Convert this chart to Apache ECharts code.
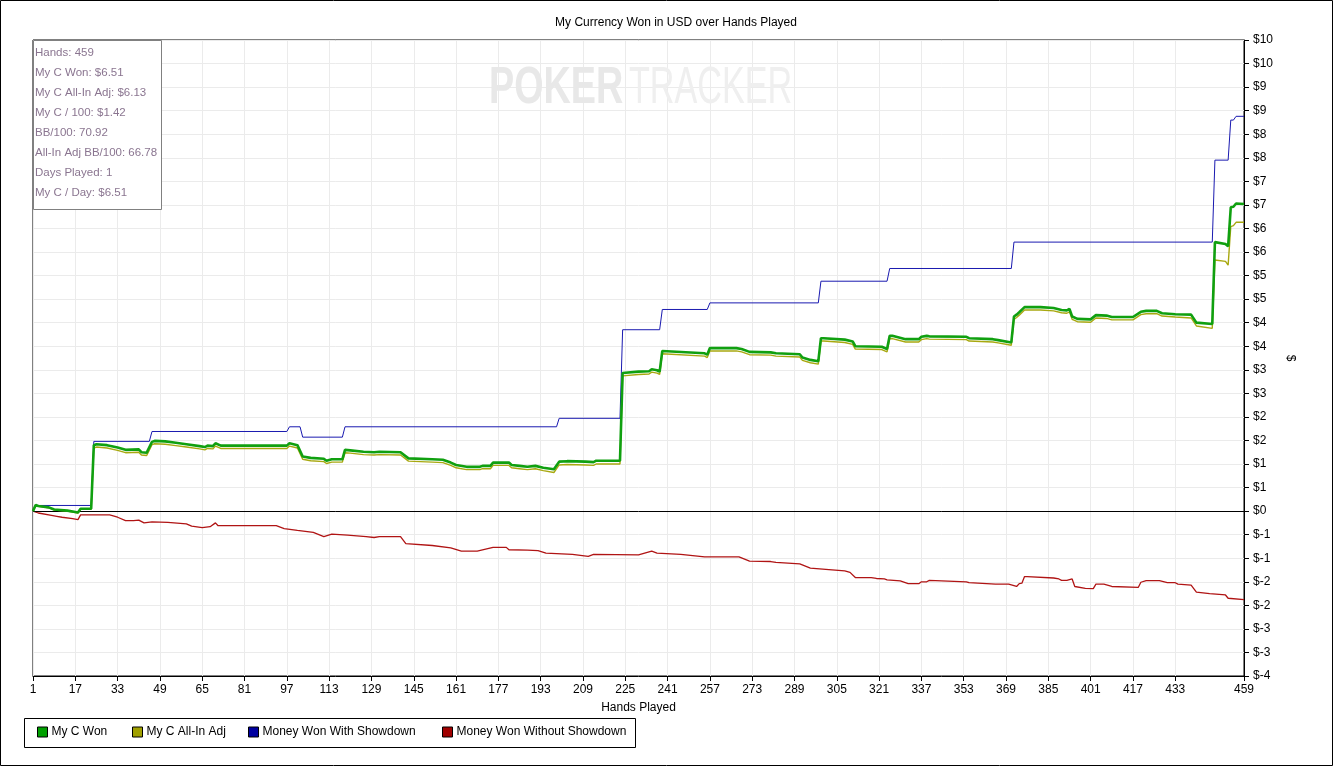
<!DOCTYPE html>
<html>
<head>
<meta charset="utf-8">
<script src="https://cdn.jsdelivr.net/npm/echarts@6/dist/echarts.min.js"></script>
<style>html,body{margin:0;padding:0;background:#fff;}#c{width:1338px;height:767px;}</style>
</head>
<body>
<div id="c"></div>
<script>
const titleText = 'My Currency Won in USD over Hands Played';
const seriesNames = ['My C Won', 'My C All-In Adj', 'Money Won With Showdown', 'Money Won Without Showdown'];
const xTicks = [1,17,33,49,65,81,97,113,129,145,161,177,193,209,225,241,257,273,289,305,321,337,353,369,385,401,417,433,459];
const infoLines = ['Hands: 459','My C Won: $6.51','My C All-In Adj: $6.13','My C / 100: $1.42','BB/100: 70.92','All-In Adj BB/100: 66.78','Days Played: 1','My C / Day: $6.51'];

const myCWon = [[1,0],[2,0.13],[3,0.11],[7,0.08],[9,0.035],[14,0.01],[17,-0.02],[18,-0.03],[19,0.05],[23,0.05],[24,1.40],[25,1.42],[29,1.40],[33,1.35],[36,1.30],[41,1.31],[42,1.25],[44,1.24],[46,1.47],[47,1.49],[51,1.48],[55,1.45],[59,1.42],[64,1.38],[66,1.36],[67,1.39],[69,1.38],[70,1.44],[72,1.39],[97,1.39],[98,1.44],[101,1.40],[103,1.16],[106,1.13],[111,1.11],[112,1.07],[114,1.10],[118,1.10],[119,1.30],[121,1.29],[126,1.26],[130,1.25],[132,1.26],[140,1.25],[143,1.12],[152,1.10],[156,1.09],[159,1.03],[161,0.98],[165,0.94],[170,0.94],[171,0.96],[174,0.96],[175,1.03],[181,1.03],[182,0.98],[185,0.96],[188,0.94],[191,0.96],[194,0.92],[198,0.89],[200,1.05],[203,1.06],[210,1.05],[213,1.04],[214,1.07],[223,1.07],[224,2.93],[230,2.96],[234,2.97],[235,3.01],[237,2.99],[238,2.96],[239,3.40],[255,3.35],[256,3.32],[257,3.46],[267,3.46],[269,3.44],[272,3.38],[280,3.37],[282,3.35],[291,3.33],[292,3.26],[295,3.21],[298,3.18],[299,3.67],[300,3.67],[308,3.64],[311,3.60],[312,3.50],[322,3.49],[324,3.44],[325,3.72],[326,3.72],[331,3.65],[336,3.65],[337,3.70],[339,3.72],[340,3.71],[354,3.70],[355,3.67],[364,3.65],[366,3.63],[371,3.58],[372,4.13],[373,4.17],[374,4.22],[376,4.33],[382,4.33],[387,4.31],[390,4.27],[392,4.26],[393,4.29],[394,4.13],[396,4.08],[401,4.07],[403,4.16],[407,4.15],[409,4.12],[417,4.12],[420,4.23],[422,4.25],[426,4.25],[428,4.20],[433,4.18],[439,4.17],[441,4.00],[447,3.97],[448,5.71],[452,5.67],[453,5.62],[454,6.45],[455,6.46],[456,6.53],[459,6.52]];

const myCAllInAdj = [[1,0],[2,0.12],[3,0.10],[7,0.07],[9,0.025],[14,0.0],[17,-0.03],[18,-0.04],[19,0.04],[23,0.04],[24,1.34],[25,1.36],[29,1.34],[33,1.29],[36,1.24],[41,1.25],[42,1.19],[44,1.18],[46,1.41],[47,1.43],[51,1.42],[55,1.39],[59,1.36],[64,1.32],[66,1.30],[67,1.33],[69,1.32],[70,1.38],[72,1.33],[97,1.33],[98,1.38],[101,1.34],[103,1.10],[106,1.07],[111,1.05],[112,1.01],[114,1.04],[118,1.04],[119,1.24],[121,1.23],[126,1.20],[130,1.19],[132,1.20],[140,1.19],[143,1.06],[152,1.04],[156,1.03],[159,0.97],[161,0.92],[165,0.88],[170,0.88],[171,0.90],[174,0.90],[175,0.97],[181,0.97],[182,0.92],[185,0.90],[188,0.88],[191,0.90],[194,0.86],[198,0.82],[200,0.98],[203,0.99],[210,0.98],[213,0.97],[214,1.00],[223,1.00],[224,2.87],[230,2.90],[234,2.91],[235,2.95],[237,2.93],[238,2.90],[239,3.34],[255,3.29],[256,3.26],[257,3.40],[267,3.40],[269,3.38],[272,3.32],[280,3.31],[282,3.29],[291,3.27],[292,3.20],[295,3.15],[298,3.12],[299,3.61],[300,3.61],[308,3.58],[311,3.54],[312,3.44],[322,3.43],[324,3.38],[325,3.66],[326,3.66],[331,3.59],[336,3.59],[337,3.64],[339,3.66],[340,3.65],[354,3.64],[355,3.61],[364,3.59],[366,3.57],[371,3.52],[372,4.07],[373,4.11],[374,4.16],[376,4.27],[382,4.27],[387,4.25],[390,4.21],[392,4.20],[393,4.23],[394,4.07],[396,4.02],[401,4.01],[403,4.10],[407,4.09],[409,4.06],[417,4.06],[420,4.17],[422,4.19],[426,4.19],[428,4.14],[433,4.12],[439,4.10],[441,3.93],[447,3.88],[448,5.33],[452,5.30],[453,5.22],[454,6.04],[455,6.06],[456,6.13],[459,6.13]];

const wonWithShowdown = [[1,0],[2,0.12],[23,0.12],[24,1.48],[45,1.48],[46,1.69],[97,1.69],[98,1.79],[102,1.79],[103,1.57],[118,1.57],[119,1.79],[199,1.79],[200,1.97],[223,1.97],[224,3.85],[238,3.85],[239,4.28],[256,4.28],[257,4.42],[298,4.42],[299,4.88],[324,4.88],[325,5.15],[371,5.15],[372,5.71],[447,5.71],[448,7.45],[453,7.45],[454,8.30],[455,8.30],[456,8.38],[459,8.38]];

const wonWithoutShowdown = [[1,0],[3,-0.04],[8,-0.09],[10,-0.11],[12,-0.13],[16,-0.16],[18,-0.18],[19,-0.08],[30,-0.08],[33,-0.13],[36,-0.20],[39,-0.20],[41,-0.19],[43,-0.25],[46,-0.23],[52,-0.24],[59,-0.27],[61,-0.32],[65,-0.35],[68,-0.33],[70,-0.25],[71,-0.31],[93,-0.31],[96,-0.37],[101,-0.41],[107,-0.45],[111,-0.54],[114,-0.49],[120,-0.51],[127,-0.54],[130,-0.56],[132,-0.54],[140,-0.54],[142,-0.69],[152,-0.73],[159,-0.78],[163,-0.85],[169,-0.85],[175,-0.77],[180,-0.77],[181,-0.82],[188,-0.83],[192,-0.84],[195,-0.89],[205,-0.92],[211,-0.96],[213,-0.92],[230,-0.93],[235,-0.85],[237,-0.89],[246,-0.92],[255,-0.97],[268,-0.97],[272,-1.06],[280,-1.07],[282,-1.09],[291,-1.12],[295,-1.21],[302,-1.24],[308,-1.27],[310,-1.30],[312,-1.41],[318,-1.41],[320,-1.43],[323,-1.44],[324,-1.46],[329,-1.48],[332,-1.54],[336,-1.54],[337,-1.50],[339,-1.50],[340,-1.47],[354,-1.50],[355,-1.52],[365,-1.55],[370,-1.55],[373,-1.60],[374,-1.54],[375,-1.53],[376,-1.39],[377,-1.39],[387,-1.42],[389,-1.44],[390,-1.47],[392,-1.47],[394,-1.44],[395,-1.60],[399,-1.64],[402,-1.645],[403,-1.55],[406,-1.55],[409,-1.60],[419,-1.62],[420,-1.51],[422,-1.475],[427,-1.475],[430,-1.52],[433,-1.52],[434,-1.55],[439,-1.57],[441,-1.72],[446,-1.75],[452,-1.78],[453,-1.85],[459,-1.88]];

const colors = ['#10a010', '#a8a810', '#1a1ab0', '#b01414'];
const legendColors = ['#00a000', '#a0a000', '#0000a0', '#a00000'];
const legendLeft = [37, 132, 248, 442];

const chart = echarts.init(document.getElementById('c'), null, {renderer: 'canvas'});
const font = 'Liberation Sans, Arial, sans-serif';

function fmtY(v) {
  if (Math.abs(v) < 1e-9) return '$0';
  return v < 0 ? '$-' + Math.round(-v) : '$' + Math.round(v);
}

const graphics = [
  {type: 'rect', shape: {x: 0.5, y: 0.5, width: 1332, height: 765}, style: {fill: 'none', stroke: '#000', lineWidth: 1}, silent: true, z: 0},
  {type: 'rect', shape: {x: 24.5, y: 718.5, width: 611, height: 29}, style: {fill: '#fff', stroke: '#000', lineWidth: 1}, silent: true, z: 0},
  {type: 'text', x: 489, y: 89, scaleX: 0.74, z: 1, silent: true, style: {text: 'POKER', fill: '#e8e8e8', font: 'bold 51px "Liberation Sans", sans-serif', verticalAlign: 'middle', textVerticalAlign: 'middle'}},
  {type: 'text', x: 629, y: 89, scaleX: 0.67, z: 1, silent: true, style: {text: 'TRACKER', fill: '#efefef', font: '51px "Liberation Sans", sans-serif', verticalAlign: 'middle', textVerticalAlign: 'middle'}},
  {type: 'rect', shape: {x: 33.5, y: 40.5, width: 128, height: 169}, style: {fill: '#fff', stroke: '#808080', lineWidth: 1}, silent: true, z: 50}
];
infoLines.forEach(function (t, i) {
  graphics.push({type: 'text', x: 35, y: 52.5 + i * 20, z: 51, silent: true,
    style: {text: t, fill: '#8a7590', font: '11.5px ' + font, textVerticalAlign: 'middle', verticalAlign: 'middle'}});
});

const legends = seriesNames.map(function (n, i) {
  return {
    data: [n], left: legendLeft[i], top: 726, padding: 0, itemWidth: 10, itemHeight: 10, itemGap: 0,
    icon: 'rect', selectedMode: false,
    itemStyle: {color: legendColors[i], borderColor: '#000', borderWidth: 1},
    textStyle: {color: '#000', fontSize: 12, fontFamily: font, padding: [0, 0, 0, -1]}
  };
});

const seriesData = [myCWon, myCAllInAdj, wonWithShowdown, wonWithoutShowdown];
const widths = [2.6, 1.4, 1, 1.3];
const zs = [6, 5, 4, 3];
const series = seriesData.map(function (d, i) {
  const s = {
    name: seriesNames[i], type: 'line', data: d, showSymbol: false, symbol: 'none',
    z: zs[i], lineStyle: {color: colors[i], width: widths[i]}, itemStyle: {color: legendColors[i]},
    animation: false, silent: true
  };
  if (i === 3) {
    s.markLine = {silent: true, symbol: 'none', label: {show: false}, animation: false,
      lineStyle: {color: '#000', width: 1, type: 'solid'}, data: [{yAxis: 0}]};
  }
  return s;
});

chart.setOption({
  animation: false,
  backgroundColor: '#fff',
  title: {text: titleText, left: 671, textAlign: 'center', top: 12, textStyle: {fontSize: 12, fontWeight: 'normal', color: '#000', fontFamily: font}},
  legend: legends,
  grid: {left: 33, top: 40, right: 94, bottom: 91, show: true, borderColor: '#000', borderWidth: 1, backgroundColor: 'transparent', containLabel: false},
  xAxis: {
    type: 'value', min: 1, max: 459,
    name: 'Hands Played', nameLocation: 'middle', nameGap: 26,
    nameTextStyle: {color: '#000', fontSize: 12, fontFamily: font},
    axisLine: {show: true, onZero: false, lineStyle: {color: '#000', width: 1}},
    axisTick: {show: true, length: 5, customValues: xTicks, lineStyle: {color: '#000'}},
    axisLabel: {customValues: xTicks, color: '#000', fontSize: 12, fontFamily: font, margin: 8, showMinLabel: true, showMaxLabel: true, hideOverlap: false},
    splitLine: {show: true, lineStyle: {color: '#ebebeb', width: 1}}
  },
  yAxis: {
    type: 'value', position: 'right', min: -3.5, max: 10, interval: 0.5,
    name: '$', nameLocation: 'middle', nameGap: 38, nameRotate: -90,
    nameTextStyle: {color: '#000', fontSize: 12, fontFamily: font},
    axisLine: {show: true, lineStyle: {color: '#000', width: 1}},
    axisTick: {show: true, length: 5, lineStyle: {color: '#000'}},
    axisLabel: {formatter: fmtY, color: '#000', fontSize: 12, fontFamily: font, margin: 9},
    splitLine: {show: true, lineStyle: {color: '#ebebeb', width: 1}}
  },
  graphic: graphics,
  series: series
});
</script>
</body>
</html>
